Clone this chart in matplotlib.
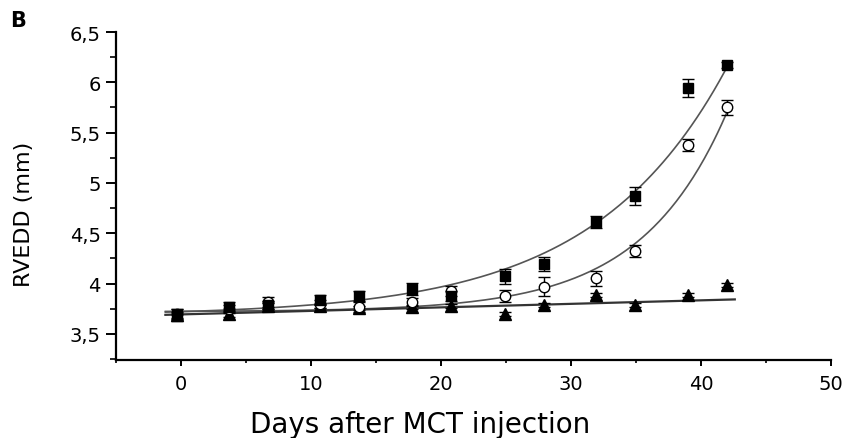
import numpy as np
import matplotlib.pyplot as plt
from matplotlib.ticker import MultipleLocator, FuncFormatter

plt.rcParams['font.family'] = ['DejaVu Sans']

# days after MCT injection (same for all groups)
days = [-0.3, 3.7, 6.7, 10.7, 13.7, 17.8, 20.8, 24.9, 27.9, 31.9, 34.9, 39.0, 42.0]

# filled squares
sq_mean = [3.69, 3.77, 3.79, 3.84, 3.88, 3.95, 3.88, 4.07, 4.19, 4.61, 4.87, 5.94, 6.17]
sq_err = [0.06, 0.05, 0.04, 0.05, 0.05, 0.06, 0.05, 0.07, 0.07, 0.06, 0.09, 0.09, 0.03]

# open circles
ci_mean = [3.70, 3.75, 3.82, 3.80, 3.77, 3.82, 3.93, 3.88, 3.97, 4.05, 4.32, 5.38, 5.75]
ci_err = [0.05, 0.04, 0.05, 0.04, 0.05, 0.04, 0.05, 0.06, 0.09, 0.07, 0.06, 0.06, 0.07]

# filled triangles
tr_mean = [3.69, 3.70, 3.78, 3.78, 3.76, 3.77, 3.78, 3.70, 3.79, 3.89, 3.79, 3.89, 3.99]
tr_err = [0.03, 0.03, 0.03, 0.02, 0.02, 0.02, 0.02, 0.02, 0.02, 0.02, 0.02, 0.02, 0.02]

# fitted curves as drawn in the figure: y = a + b*exp(k*x)  (a, b, k)
sq_fit = [3.68, 0.0403, 0.098]
ci_fit = [3.72, 0.00335, 0.152]
# linear fit for triangles: (intercept, slope)
tr_fit = [3.693, 0.0035]
curve_range = (-1.2, 42.0)
line_range = (-1.2, 42.6)


fig = plt.figure(figsize=(8.49, 4.39), dpi=100)
ax = fig.add_axes([0.1366, 0.1777, 0.9788 - 0.1366, 0.9248 - 0.1777])

xf = np.linspace(curve_range[0], curve_range[1], 300)
line_kw = dict(color='#555555', lw=1.2, zorder=1)
for a, b, k in (sq_fit, ci_fit):
    ax.plot(xf, a + b * np.exp(k * xf), **line_kw)
xl = np.array(line_range)
ax.plot(xl, tr_fit[0] + tr_fit[1] * xl, color='#333333', lw=1.6, zorder=1)

eb_kw = dict(ecolor='black', elinewidth=1.0, capsize=4, capthick=1.0, linestyle='none', zorder=3)
ax.errorbar(days, tr_mean, yerr=tr_err, fmt='^', ms=8, mfc='black', mec='black', **eb_kw)
ax.errorbar(days, ci_mean, yerr=ci_err, fmt='o', ms=7.5, mfc='white', mec='black', mew=1.0, **eb_kw)
ax.errorbar(days, sq_mean, yerr=sq_err, fmt='s', ms=7.5, mfc='black', mec='black', **eb_kw)

ax.set_xlim(-5, 50)
ax.set_ylim(3.24, 6.5)
ax.xaxis.set_major_locator(MultipleLocator(10))
ax.xaxis.set_minor_locator(MultipleLocator(5))
ax.yaxis.set_major_locator(MultipleLocator(0.5))
ax.yaxis.set_minor_locator(MultipleLocator(0.25))
ax.yaxis.set_major_formatter(FuncFormatter(lambda v, pos: ('%g' % v).replace('.', ',')))

for s in ['top', 'right']:
    ax.spines[s].set_visible(False)
for s in ['left', 'bottom']:
    ax.spines[s].set_linewidth(1.6)

ax.tick_params(axis='y', which='major', length=7, width=1.4, labelsize=14, pad=4)
ax.tick_params(axis='y', which='minor', length=4.5, width=1.2)
ax.tick_params(axis='x', which='major', length=4, width=1.4, labelsize=14, pad=6)
ax.tick_params(axis='x', which='minor', length=2.5, width=1.2)

ax.set_xlabel('Days after MCT injection', fontsize=20, va='center')
ax.xaxis.set_label_coords(0.425, -0.195)
ax.set_ylabel('RVEDD (mm)', fontsize=16, va='center')
ax.yaxis.set_label_coords(-0.129, 0.448)

fig.text(0.012, 0.975, 'B', fontsize=15, fontweight='bold', va='top', ha='left')

fig.savefig('out.png', dpi=100)
